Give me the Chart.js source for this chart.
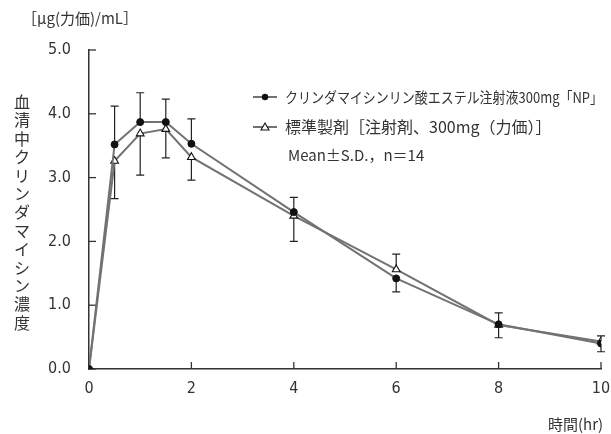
<!DOCTYPE html>
<html>
<head>
<meta charset="utf-8">
<script src="https://cdn.jsdelivr.net/npm/chart.js@4.4.0/dist/chart.umd.min.js"></script>
<style>
  body { margin: 0; background: #fff; }
  #wrap { width: 611px; height: 434px; }
</style>
</head>
<body>
<div id="wrap"><canvas id="myChart" width="611" height="434"></canvas></div>
<script>
// sampling times (hr)
let hours = [0, 0.5, 1, 1.5, 2, 4, 6, 8, 10];
// クリンダマイシンリン酸エステル注射液300mg「NP」
let npMean = [0, 3.52, 3.87, 3.87, 3.53, 2.46, 1.42, 0.70, 0.40];
let npSD = [0, 0.60, 0.46, 0.36, 0.39, 0.23, 0.21, 0.18, 0.13];
let npBarDir = [0, 1, 1, 1, 1, 1, -1, 1, -1];
// 標準製剤
let refMean = [0, 3.26, 3.69, 3.76, 3.32, 2.40, 1.56, 0.69, 0.43];
let refSD = [0, 0.59, 0.65, 0.45, 0.36, 0.40, 0.24, 0.20, 0.09];
let refBarDir = [0, -1, -1, -1, -1, -1, 1, -1, 1];

let legendLabels = ['クリンダマイシンリン酸エステル注射液300mg「NP」', '標準製剤［注射剤、300mg（力価）］', 'Mean±S.D.，n＝14'];
let yTitle = '血清中クリンダマイシン濃度';
let unitLabel = '［μg(力価)/mL］';
let xTitle = '時間(hr)';

let jpFont = '"Noto Sans CJK JP", "DejaVu Sans", sans-serif';
let numFont = '"DejaVu Sans Condensed", "Liberation Sans Narrow", "DejaVu Sans", sans-serif';
let inkColor = '#333';
let lineColor = '#727272';

function toPoints(xs, ys) {
  let pts = [];
  for (let i = 0; i <= xs.length - 1; i++) {
    pts.push({x: xs[i], y: ys[i]});
  }
  return pts;
}

// error bars + inward ticks
let errorBars = {
  id: 'errorBars',
  beforeDatasetsDraw(chart) {
    let ctx = chart.ctx;
    let xs = chart.scales.x;
    let ys = chart.scales.y;
    let area = chart.chartArea;
    ctx.save();
    ctx.strokeStyle = '#222';
    ctx.lineWidth = 1.2;
    let sets = [[npMean, npSD, npBarDir], [refMean, refSD, refBarDir]];
    sets.forEach(function(s) {
      for (let i = 0; i <= hours.length - 1; i++) {
        if (!s[1][i]) continue;
        let px = xs.getPixelForValue(hours[i]);
        let py = ys.getPixelForValue(s[0][i]);
        let pe = ys.getPixelForValue(s[0][i] + s[2][i] * s[1][i]);
        ctx.beginPath();
        ctx.moveTo(px, py);
        ctx.lineTo(px, pe);
        ctx.moveTo(px - 4, pe);
        ctx.lineTo(px + 4, pe);
        ctx.stroke();
      }
    });
    // inward ticks
    ctx.strokeStyle = inkColor;
    ctx.lineWidth = 1.3;
    ys.ticks.forEach(function(t) {
      let py = ys.getPixelForValue(t.value);
      ctx.beginPath();
      ctx.moveTo(area.left, py);
      ctx.lineTo(area.left + 7, py);
      ctx.stroke();
    });
    xs.ticks.forEach(function(t) {
      let px = xs.getPixelForValue(t.value);
      ctx.beginPath();
      ctx.moveTo(px, area.bottom);
      ctx.lineTo(px, area.bottom - 7);
      ctx.stroke();
    });
    ctx.restore();
  },
  afterDraw(chart) {
    let ctx = chart.ctx;
    ctx.save();
    ctx.fillStyle = inkColor;
    ctx.textBaseline = 'middle';

    // legend
    let rows = [97, 127];
    let styles = ['circle', 'triangle'];
    for (let i = 0; i < 2; i++) {
      let y = rows[i];
      ctx.strokeStyle = lineColor;
      ctx.lineWidth = 2;
      ctx.beginPath();
      ctx.moveTo(253, y);
      ctx.lineTo(277, y);
      ctx.stroke();
      ctx.strokeStyle = '#111';
      ctx.lineWidth = 1.1;
      if (styles[i] === 'circle') {
        ctx.fillStyle = '#111';
        ctx.beginPath();
        ctx.arc(265, y, 3.2, 0, Math.PI * 2);
        ctx.fill();
      } else {
        ctx.fillStyle = '#fff';
        ctx.beginPath();
        ctx.moveTo(265, y - 4);
        ctx.lineTo(269, y + 3);
        ctx.lineTo(261, y + 3);
        ctx.closePath();
        ctx.fill();
        ctx.stroke();
      }
    }
    ctx.fillStyle = inkColor;
    ctx.textAlign = 'left';
    ctx.font = '15px ' + jpFont;
    ctx.fillText(legendLabels[0], 285, rows[0], 318);
    ctx.font = '16px ' + jpFont;
    ctx.fillText(legendLabels[1], 285, rows[1], 280);
    ctx.font = '15px ' + jpFont;
    ctx.fillText(legendLabels[2], 288, 155, 160);

    // unit label
    ctx.font = '15px ' + jpFont;
    ctx.fillText(unitLabel, 22, 18, 128);

    // vertical y title, upright characters
    ctx.textAlign = 'center';
    ctx.font = '16px ' + jpFont;
    let chars = Array.from(yTitle);
    for (let i = 0; i <= chars.length - 1; i++) {
      ctx.fillText(chars[i], 22, 102 + i * 18.4);
    }

    // x title
    ctx.textAlign = 'left';
    ctx.font = '15px ' + jpFont;
    ctx.fillText(xTitle, 548, 424, 60);
    ctx.restore();
  }
};

let ctx = document.getElementById('myChart').getContext('2d');
let myChart = new Chart(ctx, {
  type: 'line',
  data: {
    datasets: [{
      label: legendLabels[0],
      data: toPoints(hours, npMean),
      borderColor: lineColor,
      borderWidth: 2,
      pointStyle: 'circle',
      pointRadius: 3.5,
      pointBackgroundColor: '#111',
      pointBorderColor: '#111',
      pointBorderWidth: 1,
      tension: 0,
    }, {
      label: legendLabels[1],
      data: toPoints(hours, refMean),
      borderColor: lineColor,
      borderWidth: 2,
      pointStyle: 'triangle',
      pointRadius: 4.5,
      pointBackgroundColor: '#fff',
      pointBorderColor: '#111',
      pointBorderWidth: 1.1,
      tension: 0,
    }],
  },
  options: {
    responsive: false,
    animation: false,
    layout: {
      padding: {top: 50, right: 10, left: 0, bottom: 0},
    },
    plugins: {
      legend: {display: false},
      tooltip: {enabled: false},
    },
    scales: {
      x: {
        type: 'linear',
        min: 0,
        max: 10,
        afterFit: function(scale) {
          scale.height = 65;
          scale.paddingLeft = 0;
          scale.paddingRight = 0;
        },
        grid: {display: true, drawOnChartArea: false, drawTicks: false},
        border: {color: inkColor, width: 1.5},
        ticks: {
          stepSize: 2,
          padding: 10,
          color: inkColor,
          font: {size: 16, family: numFont},
        },
      },
      y: {
        min: 0,
        max: 5,
        afterFit: function(scale) {
          scale.width = 89;
          scale.paddingTop = 0;
          scale.paddingBottom = 0;
        },
        grid: {display: true, drawOnChartArea: false, drawTicks: false},
        border: {color: inkColor, width: 1.5},
        ticks: {
          stepSize: 1,
          padding: 18,
          color: inkColor,
          font: {size: 16, family: numFont},
          callback: function(v) { return v.toFixed(1); },
        },
      },
    },
  },
  plugins: [errorBars],
});
</script>
</body>
</html>
